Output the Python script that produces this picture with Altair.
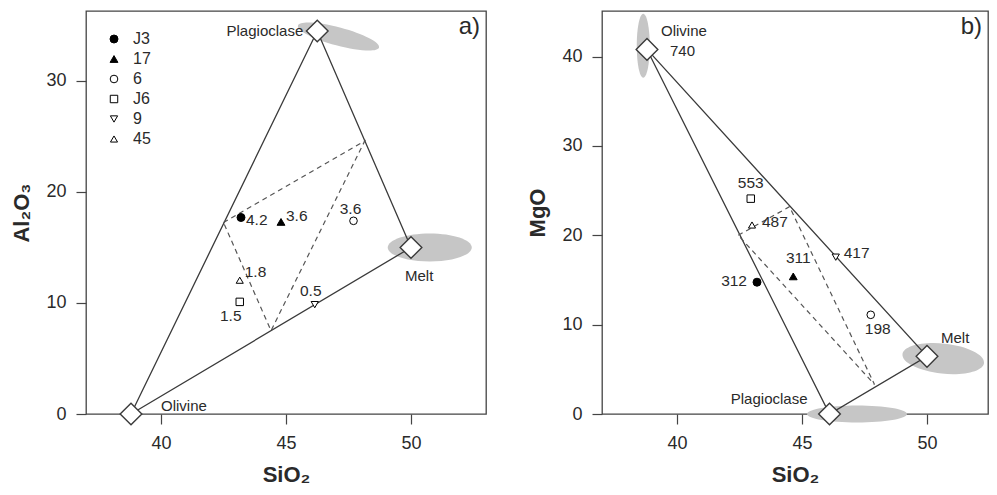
import altair as alt
import pandas as pd

FONT = "Liberation Sans"

# ---------------- data ----------------
samples = ["J3", "17", "6", "J6", "9", "45"]

# panel a) Al2O3 vs SiO2
sio2_a = [43.2, 44.8, 47.7, 43.15, 46.15, 43.15]
al2o3_a = [17.7, 17.3, 17.4, 10.1, 9.85, 12.05]
labels_a = ["4.2", "3.6", "3.6", "1.5", "0.5", "1.8"]

# panel b) MgO vs SiO2
sio2_b = [43.2, 44.65, 47.75, 42.95, 46.35, 43.0]
mgo_b = [14.75, 15.4, 11.1, 24.1, 17.55, 21.15]
labels_b = ["312", "311", "198", "553", "417", "487"]

# end-member phases
phases = ["Olivine", "Plagioclase", "Melt"]
phase_sio2_a = [38.8, 46.25, 50.0]
phase_al2o3_a = [0.0, 34.5, 15.0]
phase_sio2_b = [38.8, 46.1, 50.0]
phase_mgo_b = [40.8, 0.0, 6.45]
phase_note_b = ["740", "", ""]

# dashed inner triangle vertices
mix_sio2_a = [42.5, 48.15, 44.4]
mix_al2o3_a = [17.25, 24.6, 7.5]
mix_sio2_b = [42.45, 44.5, 47.9]
mix_mgo_b = [20.0, 23.2, 3.3]

# grey uncertainty ellipse centres
ell_phase_a = ["Plagioclase", "Melt"]
ell_sio2_a = [47.1, 50.75]
ell_al2o3_a = [34.0, 15.0]
ell_phase_b = ["Olivine", "Plagioclase", "Melt"]
ell_sio2_b = [38.65, 47.2, 50.65]
ell_mgo_b = [41.2, 0.0, 6.2]

x_ticks = [40, 45, 50]
y_ticks_a = [0, 10, 20, 30]
y_ticks_b = [0, 10, 20, 30, 40]

# ---------------- styling helpers ----------------
LINE = "#3a3a3a"
TXT = "#2a2a2a"
GREY = "#c6c6c6"

shape_scale = alt.Scale(domain=samples,
                        range=["circle", "triangle-up", "circle", "square", "triangle-down", "triangle-up"])
fill_scale = alt.Scale(domain=samples,
                       range=["black", "black", "white", "white", "white", "white"])
stroke_scale = alt.Scale(domain=samples, range=["black"] * 6)
size_scale = alt.Scale(domain=samples, range=[64, 50, 50, 60, 30, 30])


def ellipse_path(k):
    c = 0.5523
    return (f"M 1 0 C 1 {c*k:.4f} {c:.4f} {k:.4f} 0 {k:.4f} "
            f"C {-c:.4f} {k:.4f} -1 {c*k:.4f} -1 0 "
            f"C -1 {-c*k:.4f} {-c:.4f} {-k:.4f} 0 {-k:.4f} "
            f"C {c:.4f} {-k:.4f} 1 {-c*k:.4f} 1 0 Z")


def build_panel(W, H, xdom, ydom, ytitle, yvals, pts, ph, mix, ell, ell_specs,
                ph_labels, pt_labels, tag, legend):
    X = alt.X("x:Q", scale=alt.Scale(domain=xdom, nice=False, zero=False),
              axis=alt.Axis(values=x_ticks, title="SiO₂"))
    Y = alt.Y("y:Q", scale=alt.Scale(domain=ydom, nice=False, zero=False),
              axis=alt.Axis(values=yvals, title=ytitle))

    layers = []
    # grey ellipses
    for name, major, minor, ang in ell_specs:
        layers.append(
            alt.Chart(ell).transform_filter(alt.datum.phase == name)
            .mark_point(shape=ellipse_path(minor / major), filled=True, fill=GREY,
                        strokeWidth=0, opacity=1, size=major * major, angle=ang)
            .encode(x=X, y=Y)
        )
    # solid outer triangle
    tri = pd.DataFrame({
        "x": [ph["x"][i] for i in [0, 1, 2, 0]],
        "y": [ph["y"][i] for i in [0, 1, 2, 0]],
        "o": [0, 1, 2, 3],
    })
    layers.append(alt.Chart(tri).mark_line(color=LINE, strokeWidth=1.3)
                  .encode(x=X, y=Y, order="o:Q"))
    # dashed inner triangle
    mtri = pd.DataFrame({
        "x": [mix["x"][i] for i in [0, 1, 2, 0]],
        "y": [mix["y"][i] for i in [0, 1, 2, 0]],
        "o": [0, 1, 2, 3],
    })
    layers.append(alt.Chart(mtri).mark_line(color="#555555", strokeWidth=1.2, strokeDash=[5, 4])
                  .encode(x=X, y=Y, order="o:Q"))
    # end-member diamonds
    layers.append(alt.Chart(ph).mark_point(shape="diamond", filled=True, fill="white",
                                           stroke=LINE, strokeWidth=1.4, size=470, opacity=1)
                  .encode(x=X, y=Y))
    # sample points
    if legend:
        leg = alt.Legend(title=None)
    else:
        leg = None
    layers.append(
        alt.Chart(pts).mark_point(filled=True, strokeWidth=1, opacity=1)
        .encode(x=X, y=Y,
                shape=alt.Shape("sample:N", scale=shape_scale, legend=leg, sort=samples),
                fill=alt.Fill("sample:N", scale=fill_scale, legend=leg, sort=samples),
                stroke=alt.Stroke("sample:N", scale=stroke_scale, legend=leg, sort=samples),
                size=alt.Size("sample:N", scale=size_scale, legend=leg, sort=samples))
    )
    # phase labels
    for name, field, dx, dy, align in ph_labels:
        layers.append(
            alt.Chart(ph).transform_filter(alt.datum.phase == name)
            .mark_text(dx=dx, dy=dy, align=align, baseline="middle", font=FONT,
                       fontSize=15, color=TXT)
            .encode(x=X, y=Y, text=f"{field}:N")
        )
    # sample labels
    for name, dx, dy, align in pt_labels:
        layers.append(
            alt.Chart(pts).transform_filter(alt.datum.sample == name)
            .mark_text(dx=dx, dy=dy, align=align, baseline="middle", font=FONT,
                       fontSize=15.5, color=TXT)
            .encode(x=X, y=Y, text="label:N")
        )
    # panel tag
    layers.append(
        alt.Chart(pd.DataFrame({"t": [tag]}))
        .mark_text(align="right", baseline="middle", font=FONT, fontSize=24, color=TXT)
        .encode(x=alt.value(W - 6), y=alt.value(16), text="t:N")
    )
    return alt.layer(*layers).properties(width=W, height=H)


pts_a = pd.DataFrame({"sample": samples, "x": sio2_a, "y": al2o3_a, "label": labels_a})
pts_b = pd.DataFrame({"sample": samples, "x": sio2_b, "y": mgo_b, "label": labels_b})
ph_a = pd.DataFrame({"phase": phases, "x": phase_sio2_a, "y": phase_al2o3_a})
ph_b = pd.DataFrame({"phase": phases, "x": phase_sio2_b, "y": phase_mgo_b, "note": phase_note_b})
mix_a = {"x": mix_sio2_a, "y": mix_al2o3_a}
mix_b = {"x": mix_sio2_b, "y": mix_mgo_b}
ell_a = pd.DataFrame({"phase": ell_phase_a, "x": ell_sio2_a, "y": ell_al2o3_a})
ell_b = pd.DataFrame({"phase": ell_phase_b, "x": ell_sio2_b, "y": ell_mgo_b})

panel_a = build_panel(
    400, 403, [37, 53], [0, 36.3], "Al₂O₃", y_ticks_a, pts_a, ph_a, mix_a, ell_a,
    [("Plagioclase", 84, 18, 15), ("Melt", 84, 28, 0)],
    [("Plagioclase", "phase", -14, 0, "right"),
     ("Melt", "phase", -6, 29, "left"),
     ("Olivine", "phase", 30, -8, "left")],
    [("J3", 5, 3, "left"), ("17", 5, -6, "left"), ("6", -3, -12, "center"),
     ("J6", -9, 14, "center"), ("9", -4, -14, "center"), ("45", 5, -8, "left")],
    "a)", True)

panel_b = build_panel(
    386, 403, [37, 52.44], [0, 45.1], "MgO", y_ticks_b, pts_b, ph_b, mix_b, ell_b,
    [("Olivine", 64, 13, 90), ("Plagioclase", 100, 17, 0), ("Melt", 82, 30, 6)],
    [("Olivine", "phase", 14, -18, "left"),
     ("Olivine", "note", 23, 2, "left"),
     ("Melt", "phase", 14, -18, "left"),
     ("Plagioclase", "phase", -22, -15, "right")],
    [("J3", -10, -1, "right"), ("17", 5, -18, "center"), ("6", 7, 14, "center"),
     ("J6", 0, -16, "center"), ("9", 8, -4, "left"), ("45", 10, -3, "left")],
    "b)", False)

chart = (
    alt.hconcat(panel_a, panel_b, spacing=39)
    .resolve_scale(shape="independent", fill="independent", size="independent",
                   stroke="independent")
    .resolve_legend(shape="independent", fill="independent", size="independent",
                    stroke="independent")
    .properties(padding={"left": 2, "top": 2, "right": 0, "bottom": 0})
    .configure_view(stroke="#444444", strokeWidth=1.3)
    .configure_axis(labelFont=FONT, labelFontSize=18, labelColor=TXT, tickColor="#444444",
                    tickSize=10, tickWidth=1.2, domain=False, grid=False,
                    titleFont=FONT, titleFontSize=22, titleFontWeight="bold", titleColor=TXT,
                    labelPadding=10, titlePadding=12)
    .configure_axisBottom(labelPadding=10, titlePadding=12)
    .configure_legend(orient="top-left", offset=20, padding=0, labelFont=FONT,
                      labelFontSize=16, labelColor=TXT, rowPadding=4, labelOffset=11,
                      symbolStrokeWidth=1)
)

chart.save("out.html", embed_options={"renderer": "svg", "actions": False})
